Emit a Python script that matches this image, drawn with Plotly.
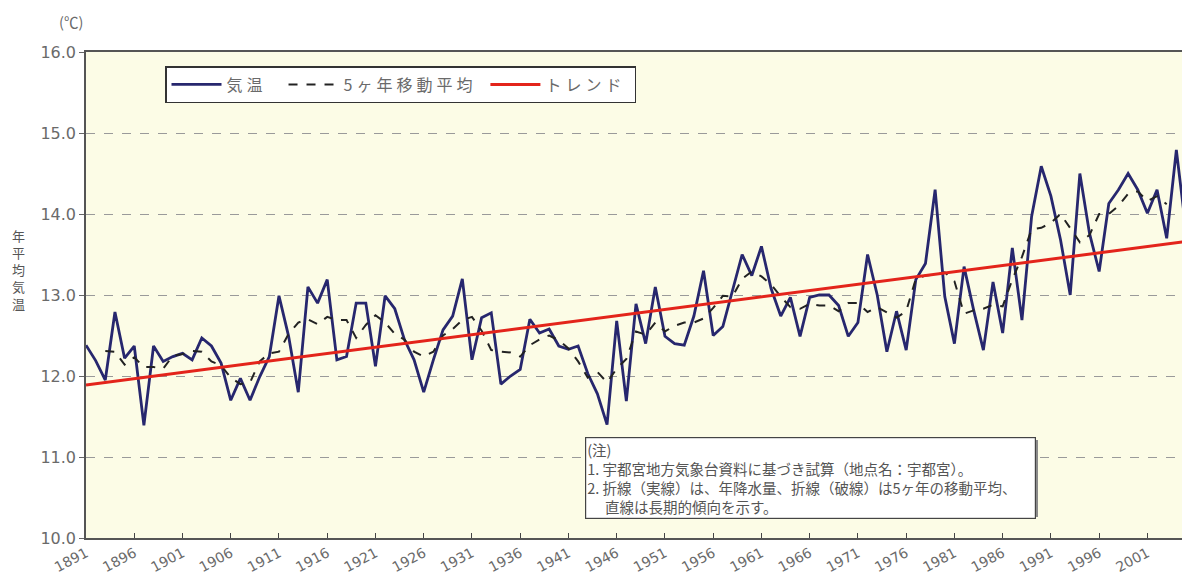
import plotly.graph_objects as go

# ---- data ----
years = list(range(1891, 2006))
temp = [
    12.38, 12.19, 11.95, 12.79, 12.22, 12.37, 11.39, 12.37, 12.18, 12.24,  # 1891-1900
    12.28, 12.20, 12.47, 12.37, 12.16, 11.70, 11.97, 11.70, 11.99, 12.24,  # 1901-1910
    12.99, 12.49, 11.80, 13.10, 12.90, 13.19, 12.20, 12.24, 12.90, 12.90,  # 1911-1920
    12.12, 12.99, 12.83, 12.45, 12.20, 11.80, 12.20, 12.57, 12.74, 13.20,  # 1921-1930
    12.20, 12.72, 12.78, 11.90, 12.00, 12.08, 12.70, 12.53, 12.58, 12.37,  # 1931-1940
    12.33, 12.37, 12.03, 11.78, 11.40, 12.68, 11.69, 12.89, 12.40, 13.10,  # 1941-1950
    12.49, 12.40, 12.38, 12.74, 13.30, 12.50, 12.61, 13.05, 13.50, 13.24,  # 1951-1960
    13.60, 13.08, 12.74, 12.97, 12.49, 12.97, 13.00, 13.00, 12.87, 12.49,  # 1961-1970
    12.66, 13.50, 13.00, 12.30, 12.80, 12.32, 13.19, 13.39, 14.30, 12.98,  # 1971-1980
    12.40, 13.35, 12.81, 12.32, 13.16, 12.53, 13.58, 12.69, 13.97, 14.59,  # 1981-1990
    14.22, 13.68, 13.00, 14.50, 13.76, 13.29, 14.13, 14.30, 14.50, 14.30,  # 1991-2000
    14.01, 14.30, 13.70, 14.79, 13.80,                                      # 2001-2005
]

ma_years = list(range(1893, 2004))
ma5 = [
    12.31, 12.30, 12.14, 12.23, 12.11, 12.11, 12.09, 12.25,                # 1893-1900
    12.27, 12.31, 12.30, 12.18, 12.13, 11.98, 11.90, 11.92, 12.18, 12.28,  # 1901-1910
    12.30, 12.52, 12.66, 12.70, 12.64, 12.73, 12.69, 12.69, 12.47, 12.63,  # 1911-1920
    12.75, 12.66, 12.52, 12.45, 12.30, 12.24, 12.30, 12.50, 12.58, 12.69,  # 1921-1930
    12.73, 12.56, 12.32, 12.30, 12.29, 12.24, 12.38, 12.45, 12.50, 12.44,  # 1931-1940
    12.34, 12.18, 11.98, 12.05, 11.92, 12.09, 12.21, 12.55, 12.51, 12.66,  # 1941-1950
    12.55, 12.62, 12.66, 12.66, 12.71, 12.84, 12.99, 12.98, 13.20, 13.29,  # 1951-1960
    13.23, 13.13, 12.98, 12.85, 12.83, 12.89, 12.87, 12.87, 12.80, 12.90,  # 1961-1970
    12.90, 12.79, 12.85, 12.78, 12.72, 12.80, 13.20, 13.24, 13.25, 13.28,  # 1971-1980
    13.17, 12.77, 12.81, 12.83, 12.88, 12.86, 13.19, 13.47, 13.81, 13.83,  # 1981-1990
    13.89, 14.00, 13.83, 13.65, 13.74, 14.00, 14.00, 14.10, 14.25, 14.28,  # 1991-2000
    14.16, 14.22, 14.12,                                                    # 2001-2003
]

trend_years = [1891, 2005]
trend_vals = [11.89, 13.66]

tick_years = [1891, 1896, 1901, 1906, 1911, 1916, 1921, 1926, 1931, 1936, 1941, 1946,
              1951, 1956, 1961, 1966, 1971, 1976, 1981, 1986, 1991, 1996, 2001]
y_ticks = [10, 11, 12, 13, 14, 15, 16]
y_tick_labels = ["10.0", "11.0", "12.0", "13.0", "14.0", "15.0", "16.0"]

legend_names = ["気温", "5ヶ年移動平均", "トレンド"]
note_lines = [
    "(注)",
    "1. 宇都宮地方気象台資料に基づき試算（地点名：宇都宮）。",
    "2. 折線（実線）は、年降水量、折線（破線）は5ヶ年の移動平均、",
    "　 直線は長期的傾向を示す。",
]

FONT = "Noto Sans CJK JP, Noto Sans, sans-serif"
NUMFONT = "DejaVu Sans, sans-serif"
GRAY = "#6a6a6a"

# page geometry (the page body has an 8px default margin)
OFF = 8
PAGE_W, PAGE_H = 1190, 576
L, R, T, B = 86, 1186, 52, 538      # plot area in page pixels
W, H = PAGE_W - OFF, PAGE_H - OFF   # figure size


def px(x):
    return (x - L) / (R - L)


def py(y):
    return (B - y) / (B - T)


SP = "\u2005"  # letter spacing used by the original legend text


def spaced(s):
    return SP.join(list(s))


fig = go.Figure()
fig.add_trace(go.Scatter(x=years, y=temp, mode="lines",
                         name=spaced(legend_names[0]) + "\u2003",
                         line=dict(color="#27276e", width=2.8)))
fig.add_trace(go.Scatter(x=ma_years, y=ma5, mode="lines",
                         name=spaced(legend_names[1]) + "\u2002",
                         line=dict(color="#222222", width=2, dash="dash")))
fig.add_trace(go.Scatter(x=trend_years, y=trend_vals, mode="lines",
                         name=spaced(legend_names[2]) + "\u2002",
                         line=dict(color="#e3241b", width=3)))

fig.update_layout(
    width=W, height=H,
    margin=dict(l=L - OFF, r=PAGE_W - R, t=T - OFF, b=PAGE_H - B, pad=0),
    paper_bgcolor="white",
    plot_bgcolor="#fcfce6",
    font=dict(family=FONT, color=GRAY, size=14),
    showlegend=True,
    legend=dict(orientation="h", x=px(165), y=py(66), xanchor="left", yanchor="top",
                bgcolor="white", bordercolor="#333333", borderwidth=1.5,
                font=dict(size=16, color=GRAY, family=FONT),
                itemwidth=50, tracegroupgap=0),
    xaxis=dict(range=[1891, 2005], tickmode="array", tickvals=tick_years,
               ticktext=[str(t) for t in tick_years], tickangle=-28,
               ticks="inside", ticklen=5, tickcolor="#444", automargin=False,
               showgrid=False, zeroline=False,
               showline=True, linecolor="#555", linewidth=1.5, mirror=True,
               tickfont=dict(size=14, color=GRAY, family=NUMFONT)),
    yaxis=dict(range=[10, 16], tickmode="array", tickvals=y_ticks, ticktext=y_tick_labels,
               ticks="outside", ticklen=5, tickcolor="#666", automargin=False,
               showgrid=True, gridcolor="#9a9a9a", griddash="dash", gridwidth=1,
               zeroline=False, showline=True, linecolor="#555", linewidth=1.5, mirror=True,
               tickfont=dict(size=16, color=GRAY, family=NUMFONT)),
)

# (℃) unit label
fig.add_annotation(xref="paper", yref="paper", x=px(71), y=py(21), text="(℃)",
                   showarrow=False, xanchor="center", yanchor="middle", borderpad=0,
                   font=dict(size=14.5, color=GRAY))

# vertical y-axis title (stacked characters)
fig.add_annotation(xref="paper", yref="paper", x=px(18), y=py(269),
                   text="<br>".join(list("年平均気温")), showarrow=False,
                   font=dict(size=13, color="#555"), xanchor="center", yanchor="middle")

# note box shadow + note box
nx0, ny0, nx1, ny1 = 585, 437, 1036, 515
fig.add_shape(type="rect", xref="paper", yref="paper",
              x0=px(nx0 + 3), x1=px(nx1 + 2), y0=py(ny1 + 2), y1=py(ny0 + 3),
              fillcolor="#8a8a8a", line=dict(width=0))
fig.add_annotation(xref="paper", yref="paper", x=px(nx0), y=py(ny0),
                   xanchor="left", yanchor="top", align="left", showarrow=False,
                   text="<br>".join(note_lines),
                   font=dict(size=14.5, color="#555"),
                   bgcolor="white", bordercolor="#444", borderwidth=1.2, borderpad=1,
                   width=nx1 - nx0 - 4)

fig.write_html("out.html")
